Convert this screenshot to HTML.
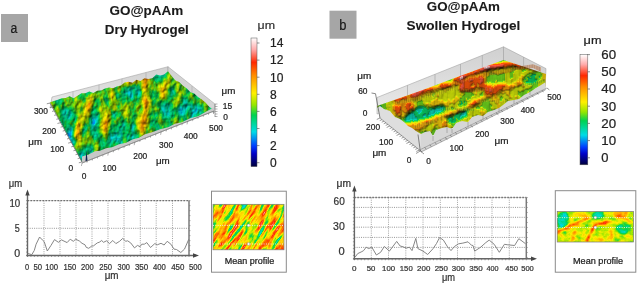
<!DOCTYPE html><html><head><meta charset="utf-8"><style>html,body{margin:0;padding:0;background:#fff;overflow:hidden}svg{display:block;will-change:transform}</style></head><body>
<svg width="637" height="283" viewBox="0 0 637 283" font-family="Liberation Sans, sans-serif">
<rect width="637" height="283" fill="#fff"/>
<defs>
<filter id="texA" x="0" y="0" width="100%" height="100%" filterUnits="objectBoundingBox" color-interpolation-filters="sRGB">
<feTurbulence type="fractalNoise" baseFrequency="0.045 0.016" numOctaves="5" seed="21" result="n"/>
<feColorMatrix in="n" type="matrix" values="1.05 0 0 0 -0.09  1.05 0 0 0 -0.09  1.05 0 0 0 -0.09  0 0 0 0 1" result="g"/>
<feComponentTransfer in="g" result="c">
<feFuncR type="table" tableValues="0.000 0.000 0.000 0.000 0.000 0.000 0.000 0.000 0.000 0.000 0.000 0.000 0.000 0.142 0.380 0.606 0.754 0.901 1.000 1.000 1.000 1.000 1.000 1.000 1.000 1.000 1.000 1.000 1.000 1.000 1.000 1.000"/>
<feFuncG type="table" tableValues="0.000 0.000 0.000 0.000 0.114 0.243 0.427 0.611 0.795 0.857 0.847 0.837 0.827 0.843 0.874 0.904 0.918 0.932 0.911 0.821 0.731 0.640 0.550 0.424 0.297 0.171 0.303 0.468 0.632 0.761 0.881 1.000"/>
<feFuncB type="table" tableValues="0.235 0.412 0.590 0.767 0.889 0.999 0.970 0.941 0.913 0.810 0.664 0.518 0.372 0.238 0.111 0.000 0.000 0.000 0.000 0.000 0.000 0.000 0.000 0.000 0.000 0.000 0.191 0.406 0.622 0.761 0.881 1.000"/>
</feComponentTransfer>
<feTurbulence type="fractalNoise" baseFrequency="0.25 0.2" numOctaves="4" seed="3" result="hn"/>
<feColorMatrix in="hn" type="matrix" values="0 0 0 0 0  0 0 0 0 0  0 0 0 0 0  0.6 0 0 0.6 -0.2" result="hm"/>
<feComposite in="n" in2="hm" operator="arithmetic" k1="0" k2="0" k3="1" k4="0" result="hm2"/>
<feColorMatrix in="n" type="matrix" values="0 0 0 0 0  0 0 0 0 0  0 0 0 0 0  1 0 0 0 0" result="na"/>
<feComposite in="na" in2="hm" operator="arithmetic" k1="0" k2="0.7" k3="0.5" k4="0" result="hgt"/>
<feDiffuseLighting in="hgt" surfaceScale="3.5" diffuseConstant="1.15" lighting-color="#fff" result="L"><feDistantLight azimuth="225" elevation="45"/></feDiffuseLighting>
<feComposite in="c" in2="L" operator="arithmetic" k1="1" k2="0.0" k3="0" k4="0" result="lit"/>
<feColorMatrix in="lit" type="matrix" values="1 0 0 0 0  0 1 0 0 0  0 0 1 0 0  0 0 0 0 1"/>
</filter>
<filter id="texB" x="0" y="0" width="100%" height="100%" filterUnits="objectBoundingBox" color-interpolation-filters="sRGB">
<feTurbulence type="fractalNoise" baseFrequency="0.03 0.12" numOctaves="3" seed="11" result="n"/>
<feColorMatrix in="n" type="matrix" values="1.3 0 0 0 -0.1  1.3 0 0 0 -0.1  1.3 0 0 0 -0.1  0 0 0 0 1" result="g"/>
<feComponentTransfer in="g" result="c">
<feFuncR type="table" tableValues="0.000 0.000 0.000 0.000 0.000 0.000 0.000 0.000 0.000 0.000 0.000 0.000 0.000 0.142 0.380 0.606 0.754 0.901 1.000 1.000 1.000 1.000 1.000 1.000 1.000 1.000 1.000 1.000 1.000 1.000 1.000 1.000"/>
<feFuncG type="table" tableValues="0.000 0.000 0.000 0.000 0.114 0.243 0.427 0.611 0.795 0.857 0.847 0.837 0.827 0.843 0.874 0.904 0.918 0.932 0.911 0.821 0.731 0.640 0.550 0.424 0.297 0.171 0.303 0.468 0.632 0.761 0.881 1.000"/>
<feFuncB type="table" tableValues="0.235 0.412 0.590 0.767 0.889 0.999 0.970 0.941 0.913 0.810 0.664 0.518 0.372 0.238 0.111 0.000 0.000 0.000 0.000 0.000 0.000 0.000 0.000 0.000 0.000 0.000 0.191 0.406 0.622 0.761 0.881 1.000"/>
</feComponentTransfer>
<feTurbulence type="fractalNoise" baseFrequency="0.2 0.3" numOctaves="4" seed="3" result="hn"/>
<feColorMatrix in="hn" type="matrix" values="0 0 0 0 0  0 0 0 0 0  0 0 0 0 0  0.6 0 0 0.6 -0.2" result="hm"/>
<feComposite in="n" in2="hm" operator="arithmetic" k1="0" k2="0" k3="1" k4="0" result="hm2"/>
<feColorMatrix in="n" type="matrix" values="0 0 0 0 0  0 0 0 0 0  0 0 0 0 0  1 0 0 0 0" result="na"/>
<feComposite in="na" in2="hm" operator="arithmetic" k1="0" k2="0.7" k3="0.5" k4="0" result="hgt"/>
<feDiffuseLighting in="hgt" surfaceScale="4" diffuseConstant="1.15" lighting-color="#fff" result="L"><feDistantLight azimuth="225" elevation="45"/></feDiffuseLighting>
<feComposite in="c" in2="L" operator="arithmetic" k1="1" k2="0.0" k3="0" k4="0" result="lit"/>
<feColorMatrix in="lit" type="matrix" values="1 0 0 0 0  0 1 0 0 0  0 0 1 0 0  0 0 0 0 1"/>
</filter>
<filter id="fieldB" x="0" y="0" width="100%" height="100%" filterUnits="objectBoundingBox" color-interpolation-filters="sRGB">
<feGaussianBlur in="SourceGraphic" stdDeviation="1.0" result="sb"/>
<feTurbulence type="fractalNoise" baseFrequency="0.1 0.07" numOctaves="3" seed="14" result="n0"/>
<feColorMatrix in="n0" type="matrix" values="1 0 0 0 0  1 0 0 0 0  1 0 0 0 0  0 0 0 0 1" result="n"/>
<feComposite in="sb" in2="n" operator="arithmetic" k1="0" k2="1" k3="0.35" k4="-0.175" result="v"/>
<feComponentTransfer in="v" result="vq"><feFuncR type="discrete" tableValues="0.000 0.077 0.154 0.231 0.308 0.385 0.462 0.538 0.615 0.692 0.769 0.846 0.923 1.000"/><feFuncG type="discrete" tableValues="0.000 0.077 0.154 0.231 0.308 0.385 0.462 0.538 0.615 0.692 0.769 0.846 0.923 1.000"/><feFuncB type="discrete" tableValues="0.000 0.077 0.154 0.231 0.308 0.385 0.462 0.538 0.615 0.692 0.769 0.846 0.923 1.000"/></feComponentTransfer><feColorMatrix in="vq" type="matrix" values="1 0 0 0 0  1 0 0 0 0  1 0 0 0 0  0 0 0 0 1" result="g"/>
<feComponentTransfer in="g" result="c">
<feFuncR type="table" tableValues="0.000 0.000 0.000 0.000 0.000 0.000 0.000 0.000 0.000 0.000 0.000 0.000 0.000 0.000 0.000 0.000 0.000 0.000 0.000 0.031 0.188 0.344 0.501 0.631 0.728 0.826 0.923 1.000 1.000 1.000 1.000 1.000 1.000 1.000 1.000 1.000 1.000 1.000 1.000 1.000 1.000 1.000 1.000 1.000 1.000 1.000 1.000 1.000"/>
<feFuncG type="table" tableValues="0.000 0.000 0.000 0.000 0.000 0.025 0.108 0.192 0.294 0.415 0.536 0.658 0.779 0.861 0.854 0.848 0.842 0.835 0.829 0.828 0.849 0.869 0.890 0.906 0.915 0.925 0.934 0.929 0.869 0.809 0.750 0.690 0.631 0.571 0.496 0.413 0.330 0.246 0.163 0.258 0.366 0.475 0.583 0.685 0.764 0.842 0.921 1.000"/>
<feFuncB type="table" tableValues="0.235 0.352 0.469 0.586 0.703 0.807 0.884 0.960 0.991 0.972 0.953 0.934 0.915 0.872 0.776 0.680 0.583 0.487 0.391 0.297 0.214 0.130 0.047 0.000 0.000 0.000 0.000 0.000 0.000 0.000 0.000 0.000 0.000 0.000 0.000 0.000 0.000 0.000 0.000 0.132 0.274 0.416 0.557 0.685 0.764 0.842 0.921 1.000"/>
</feComponentTransfer>
<feTurbulence type="fractalNoise" baseFrequency="0.4 0.04" numOctaves="4" seed="5" result="hn"/>
<feColorMatrix in="vq" type="matrix" values="0 0 0 0 0  0 0 0 0 0  0 0 0 0 0  1 0 0 0 0" result="va"/>
<feColorMatrix in="hn" type="matrix" values="0 0 0 0 0  0 0 0 0 0  0 0 0 0 0  1 0 0 0 0" result="ha"/>
<feComposite in="va" in2="ha" operator="arithmetic" k1="0" k2="1.0" k3="0.3" k4="-0.15" result="hgt"/>
<feDiffuseLighting in="hgt" surfaceScale="4.0" diffuseConstant="1.1" lighting-color="#fff" result="L"><feDistantLight azimuth="260" elevation="45"/></feDiffuseLighting>
<feComposite in="c" in2="L" operator="arithmetic" k1="0.85" k2="0.12" k3="0" k4="0" result="lit"/>
<feComposite in="lit" in2="SourceAlpha" operator="in"/>
</filter>
<filter id="fieldA" x="0" y="0" width="100%" height="100%" filterUnits="objectBoundingBox" color-interpolation-filters="sRGB">
<feGaussianBlur in="SourceGraphic" stdDeviation="2.0" result="sb"/>
<feTurbulence type="fractalNoise" baseFrequency="0.11 0.06" numOctaves="4" seed="4" result="n0"/>
<feColorMatrix in="n0" type="matrix" values="1 0 0 0 0  1 0 0 0 0  1 0 0 0 0  0 0 0 0 1" result="n"/>
<feComposite in="sb" in2="n" operator="arithmetic" k1="0" k2="1" k3="0.46" k4="-0.23" result="v"/>
<feColorMatrix in="v" type="matrix" values="1 0 0 0 0  1 0 0 0 0  1 0 0 0 0  0 0 0 0 1" result="g"/>
<feComponentTransfer in="g" result="c">
<feFuncR type="table" tableValues="0.000 0.000 0.000 0.000 0.000 0.000 0.000 0.000 0.000 0.000 0.000 0.000 0.000 0.000 0.000 0.000 0.000 0.000 0.000 0.031 0.188 0.344 0.501 0.631 0.728 0.826 0.923 1.000 1.000 1.000 1.000 1.000 1.000 1.000 1.000 1.000 1.000 1.000 1.000 1.000 1.000 1.000 1.000 1.000 1.000 1.000 1.000 1.000"/>
<feFuncG type="table" tableValues="0.000 0.000 0.000 0.000 0.000 0.025 0.108 0.192 0.294 0.415 0.536 0.658 0.779 0.861 0.854 0.848 0.842 0.835 0.829 0.828 0.849 0.869 0.890 0.906 0.915 0.925 0.934 0.929 0.869 0.809 0.750 0.690 0.631 0.571 0.496 0.413 0.330 0.246 0.163 0.258 0.366 0.475 0.583 0.685 0.764 0.842 0.921 1.000"/>
<feFuncB type="table" tableValues="0.235 0.352 0.469 0.586 0.703 0.807 0.884 0.960 0.991 0.972 0.953 0.934 0.915 0.872 0.776 0.680 0.583 0.487 0.391 0.297 0.214 0.130 0.047 0.000 0.000 0.000 0.000 0.000 0.000 0.000 0.000 0.000 0.000 0.000 0.000 0.000 0.000 0.000 0.000 0.132 0.274 0.416 0.557 0.685 0.764 0.842 0.921 1.000"/>
</feComponentTransfer>
<feTurbulence type="fractalNoise" baseFrequency="0.22 0.18" numOctaves="4" seed="9" result="hn"/>
<feColorMatrix in="v" type="matrix" values="0 0 0 0 0  0 0 0 0 0  0 0 0 0 0  1 0 0 0 0" result="va"/>
<feColorMatrix in="hn" type="matrix" values="0 0 0 0 0  0 0 0 0 0  0 0 0 0 0  1 0 0 0 0" result="ha"/>
<feComposite in="va" in2="ha" operator="arithmetic" k1="0" k2="0.8" k3="0.5" k4="-0.15" result="hgt"/>
<feDiffuseLighting in="hgt" surfaceScale="2.8" diffuseConstant="1.1" lighting-color="#fff" result="L"><feDistantLight azimuth="225" elevation="48"/></feDiffuseLighting>
<feComposite in="c" in2="L" operator="arithmetic" k1="1.0" k2="0.0" k3="0" k4="0" result="lit"/>
<feComposite in="lit" in2="SourceAlpha" operator="in"/>
</filter>
<filter id="texMA" x="0" y="0" width="100%" height="100%" filterUnits="objectBoundingBox" color-interpolation-filters="sRGB">
<feTurbulence type="fractalNoise" baseFrequency="0.12 0.035" numOctaves="3" seed="5" result="n"/>
<feColorMatrix in="n" type="matrix" values="1.3 0 0 0 -0.0  1.3 0 0 0 -0.0  1.3 0 0 0 -0.0  0 0 0 0 1" result="g"/>
<feComponentTransfer in="g" result="c">
<feFuncR type="table" tableValues="0.000 0.000 0.000 0.000 0.000 0.000 0.000 0.000 0.000 0.000 0.000 0.000 0.000 0.142 0.380 0.606 0.754 0.901 1.000 1.000 1.000 1.000 1.000 1.000 1.000 1.000 1.000 1.000 1.000 1.000 1.000 1.000"/>
<feFuncG type="table" tableValues="0.000 0.000 0.000 0.000 0.114 0.243 0.427 0.611 0.795 0.857 0.847 0.837 0.827 0.843 0.874 0.904 0.918 0.932 0.911 0.821 0.731 0.640 0.550 0.424 0.297 0.171 0.303 0.468 0.632 0.761 0.881 1.000"/>
<feFuncB type="table" tableValues="0.235 0.412 0.590 0.767 0.889 0.999 0.970 0.941 0.913 0.810 0.664 0.518 0.372 0.238 0.111 0.000 0.000 0.000 0.000 0.000 0.000 0.000 0.000 0.000 0.000 0.000 0.191 0.406 0.622 0.761 0.881 1.000"/>
</feComponentTransfer>

</filter>
<filter id="texMB" x="0" y="0" width="100%" height="100%" filterUnits="objectBoundingBox" color-interpolation-filters="sRGB">
<feTurbulence type="fractalNoise" baseFrequency="0.05 0.15" numOctaves="3" seed="9" result="n"/>
<feColorMatrix in="n" type="matrix" values="1.2 0 0 0 -0.05  1.2 0 0 0 -0.05  1.2 0 0 0 -0.05  0 0 0 0 1" result="g"/>
<feComponentTransfer in="g" result="c">
<feFuncR type="table" tableValues="0.000 0.000 0.000 0.000 0.000 0.000 0.000 0.000 0.000 0.000 0.000 0.000 0.000 0.142 0.380 0.606 0.754 0.901 1.000 1.000 1.000 1.000 1.000 1.000 1.000 1.000 1.000 1.000 1.000 1.000 1.000 1.000"/>
<feFuncG type="table" tableValues="0.000 0.000 0.000 0.000 0.114 0.243 0.427 0.611 0.795 0.857 0.847 0.837 0.827 0.843 0.874 0.904 0.918 0.932 0.911 0.821 0.731 0.640 0.550 0.424 0.297 0.171 0.303 0.468 0.632 0.761 0.881 1.000"/>
<feFuncB type="table" tableValues="0.235 0.412 0.590 0.767 0.889 0.999 0.970 0.941 0.913 0.810 0.664 0.518 0.372 0.238 0.111 0.000 0.000 0.000 0.000 0.000 0.000 0.000 0.000 0.000 0.000 0.000 0.191 0.406 0.622 0.761 0.881 1.000"/>
</feComponentTransfer>

</filter>
<linearGradient id="cbar" x1="0" y1="1" x2="0" y2="0"><stop offset="0.0" stop-color="rgb(0, 0, 60)"/><stop offset="0.1" stop-color="rgb(0, 0, 200)"/><stop offset="0.16" stop-color="rgb(0, 60, 255)"/><stop offset="0.27" stop-color="rgb(0, 220, 230)"/><stop offset="0.4" stop-color="rgb(0, 210, 80)"/><stop offset="0.48" stop-color="rgb(150, 230, 0)"/><stop offset="0.57" stop-color="rgb(255, 240, 0)"/><stop offset="0.71" stop-color="rgb(255, 140, 0)"/><stop offset="0.81" stop-color="rgb(255, 40, 0)"/><stop offset="0.91" stop-color="rgb(255, 170, 170)"/><stop offset="1.0" stop-color="rgb(255, 255, 255)"/></linearGradient>
<linearGradient id="wall" x1="0" y1="0" x2="0" y2="1"><stop offset="0" stop-color="#d0d0d0"/><stop offset="1" stop-color="#eaeaea"/></linearGradient>
</defs>
<rect x="1" y="14" width="27" height="28" fill="#a6a6a6"/>
<text x="10.4" y="32.6" font-size="14" font-weight="normal" fill="#1a1a1a" stroke="#1a1a1a" stroke-width="0.22" text-anchor="start" textLength="6.8" lengthAdjust="spacingAndGlyphs" >a</text>
<text x="109.5" y="15.3" font-size="12.3" font-weight="bold" fill="#1a1a1a" stroke="#1a1a1a" stroke-width="0.1" text-anchor="start" textLength="73.8" lengthAdjust="spacingAndGlyphs" >GO@pAAm</text>
<text x="104.8" y="33.9" font-size="12.6" font-weight="bold" fill="#1a1a1a" stroke="#1a1a1a" stroke-width="0.1" text-anchor="start" textLength="84.0" lengthAdjust="spacingAndGlyphs" >Dry Hydrogel</text>
<polygon points="52.0,97.0 168.0,66.7 168.0,78.0 50.0,108.0" fill="url(#wall)" stroke="#999" stroke-width="0.5" />
<line x1="73" y1="91.5148" x2="73" y2="99.5148" stroke="#a8a8a8" stroke-width="0.6" />
<line x1="99" y1="84.7236" x2="99" y2="92.7236" stroke="#a8a8a8" stroke-width="0.6" />
<line x1="122" y1="78.71600000000001" x2="122" y2="86.71600000000001" stroke="#a8a8a8" stroke-width="0.6" />
<line x1="146" y1="72.44720000000001" x2="146" y2="80.44720000000001" stroke="#a8a8a8" stroke-width="0.6" />
<polygon points="168.0,66.7 215.0,104.0 214.0,113.0 168.0,78.0" fill="#d4d4d4" stroke="#999" stroke-width="0.5" />
<line x1="192" y1="86" x2="192" y2="94" stroke="#a8a8a8" stroke-width="0.6" />
<clipPath id="clipSA"><polygon points="50.0,102.3 53.9,100.9 57.9,99.8 61.8,98.3 65.7,97.9 69.7,96.3 73.6,98.2 77.5,95.8 81.5,93.3 85.4,93.2 89.3,91.4 93.3,92.9 97.2,90.8 101.1,90.5 105.1,88.6 109.0,87.5 112.9,88.3 116.9,86.6 120.8,85.4 124.7,82.4 128.7,81.8 132.6,82.8 136.5,79.7 140.5,80.9 144.4,78.3 148.3,78.9 152.3,78.3 156.2,74.5 160.1,75.6 164.1,74.6 168.0,71.2 171.8,76.3 175.5,80.5 179.2,81.9 183.0,85.8 186.8,88.4 190.5,92.3 194.2,93.6 198.0,97.1 201.8,99.4 205.5,102.5 209.2,106.7 213.0,109.5 214.0,111.0 82.0,162.0"/></clipPath>
<g clip-path="url(#clipSA)"><g filter="url(#fieldA)"><rect x="40" y="60" width="180" height="110" fill="rgb(106,106,106)"/><polygon points="50,103 168,73 214,111 200,112 165,85 55,112" fill="rgb(112,112,112)"/><ellipse cx="66" cy="125" rx="10" ry="18" fill="rgb(87,87,87)"/><ellipse cx="70" cy="134" rx="4" ry="9" fill="rgb(69,69,69)"/><ellipse cx="124" cy="133" rx="12" ry="14" fill="rgb(89,89,89)"/><ellipse cx="184" cy="118" rx="17" ry="12" fill="rgb(92,92,92)"/><ellipse cx="195" cy="108" rx="8" ry="5" fill="rgb(87,87,87)"/><ellipse cx="160" cy="118" rx="6" ry="6" fill="rgb(89,89,89)"/><ellipse cx="90" cy="150" rx="6" ry="6" fill="rgb(84,84,84)"/><path d="M76,136 L82,119 L95,93" stroke="rgb(178,178,178)" stroke-width="4" fill="none" stroke-linecap="round"/><path d="M104,131 L108,118 L112,106" stroke="rgb(168,168,168)" stroke-width="4" fill="none" stroke-linecap="round"/><path d="M142,131 L145,118 L146.5,105 L145,91 L146.5,76" stroke="rgb(194,194,194)" stroke-width="5" fill="none" stroke-linecap="round"/><path d="M125,108 L131,134" stroke="rgb(158,158,158)" stroke-width="3" fill="none" stroke-linecap="round"/><path d="M125,84 L142,78" stroke="rgb(158,158,158)" stroke-width="5" fill="none" stroke-linecap="round"/><path d="M162,98 L168,78" stroke="rgb(158,158,158)" stroke-width="4" fill="none" stroke-linecap="round"/></g></g>
<polygon points="82.0,163.0 82.0,156.4 88.0,154.8 95.0,151.3 100.0,150.8 106.0,148.3 112.0,147.3 119.0,144.3 126.0,142.8 133.0,139.3 139.0,137.8 145.0,134.3 152.0,132.3 160.0,129.3 168.0,127.3 175.0,123.8 182.0,122.3 190.0,118.3 198.0,116.3 205.0,112.3 214.0,107.2 214.0,111.0" fill="#c8c8c8" stroke="none" stroke-width="1" />
<line x1="82" y1="163" x2="214" y2="111" stroke="#8c8c8c" stroke-width="0.8" />
<path d="M86.5,150 L87.5,161 L85.5,161 Z" fill="#102050"/>
<text x="40.9" y="114.3" font-size="8.4" font-weight="normal" fill="#222" stroke="#222" stroke-width="0.22" text-anchor="middle" >300</text>
<text x="49.3" y="133.9" font-size="8.4" font-weight="normal" fill="#222" stroke="#222" stroke-width="0.22" text-anchor="middle" >200</text>
<text x="57.3" y="151.5" font-size="8.4" font-weight="normal" fill="#222" stroke="#222" stroke-width="0.22" text-anchor="middle" >100</text>
<text x="70.9" y="170.6" font-size="8.4" font-weight="normal" fill="#222" stroke="#222" stroke-width="0.22" text-anchor="middle" >0</text>
<text x="84.2" y="178.6" font-size="8.4" font-weight="normal" fill="#222" stroke="#222" stroke-width="0.22" text-anchor="middle" >0</text>
<text x="109.5" y="170.5" font-size="8.4" font-weight="normal" fill="#222" stroke="#222" stroke-width="0.22" text-anchor="middle" >100</text>
<text x="140.3" y="158.6" font-size="8.4" font-weight="normal" fill="#222" stroke="#222" stroke-width="0.22" text-anchor="middle" >200</text>
<text x="166.1" y="147.8" font-size="8.4" font-weight="normal" fill="#222" stroke="#222" stroke-width="0.22" text-anchor="middle" >300</text>
<text x="190.8" y="138.6" font-size="8.4" font-weight="normal" fill="#222" stroke="#222" stroke-width="0.22" text-anchor="middle" >400</text>
<text x="216" y="131.0" font-size="8.4" font-weight="normal" fill="#222" stroke="#222" stroke-width="0.22" text-anchor="middle" >500</text>
<text x="227.5" y="109.0" font-size="8.4" font-weight="normal" fill="#222" stroke="#222" stroke-width="0.22" text-anchor="middle" >15</text>
<text x="225.5" y="119.5" font-size="8.4" font-weight="normal" fill="#222" stroke="#222" stroke-width="0.22" text-anchor="middle" >0</text>
<text x="35.2" y="145.0" font-size="8.8" font-weight="normal" fill="#222" stroke="#222" stroke-width="0.22" text-anchor="middle" textLength="13.8" lengthAdjust="spacingAndGlyphs" >μm</text>
<text x="162.8" y="163.9" font-size="8.8" font-weight="normal" fill="#222" stroke="#222" stroke-width="0.22" text-anchor="middle" textLength="13.8" lengthAdjust="spacingAndGlyphs" >μm</text>
<text x="228.5" y="93.5" font-size="8.8" font-weight="normal" fill="#222" stroke="#222" stroke-width="0.22" text-anchor="middle" textLength="13.8" lengthAdjust="spacingAndGlyphs" >μm</text>
<line x1="50" y1="103" x2="82" y2="162" stroke="#666" stroke-width="0.8" />
<line x1="82" y1="163" x2="214" y2="111" stroke="#888" stroke-width="0.6" />
<line x1="50.0" y1="103.0" x2="46.8" y2="103.8" stroke="#555" stroke-width="0.6" />
<line x1="52.13333333333333" y1="106.93333333333334" x2="49.93333333333333" y2="107.48333333333333" stroke="#555" stroke-width="0.6" />
<line x1="54.266666666666666" y1="110.86666666666666" x2="52.06666666666666" y2="111.41666666666666" stroke="#555" stroke-width="0.6" />
<line x1="56.4" y1="114.8" x2="54.199999999999996" y2="115.35" stroke="#555" stroke-width="0.6" />
<line x1="58.53333333333333" y1="118.73333333333333" x2="56.33333333333333" y2="119.28333333333333" stroke="#555" stroke-width="0.6" />
<line x1="60.666666666666664" y1="122.66666666666666" x2="57.46666666666666" y2="123.46666666666665" stroke="#555" stroke-width="0.6" />
<line x1="62.8" y1="126.6" x2="60.599999999999994" y2="127.14999999999999" stroke="#555" stroke-width="0.6" />
<line x1="64.93333333333334" y1="130.53333333333333" x2="62.733333333333334" y2="131.08333333333334" stroke="#555" stroke-width="0.6" />
<line x1="67.06666666666666" y1="134.46666666666667" x2="64.86666666666666" y2="135.01666666666668" stroke="#555" stroke-width="0.6" />
<line x1="69.2" y1="138.4" x2="67.0" y2="138.95000000000002" stroke="#555" stroke-width="0.6" />
<line x1="71.33333333333333" y1="142.33333333333331" x2="68.13333333333333" y2="143.13333333333333" stroke="#555" stroke-width="0.6" />
<line x1="73.46666666666667" y1="146.26666666666665" x2="71.26666666666667" y2="146.81666666666666" stroke="#555" stroke-width="0.6" />
<line x1="75.6" y1="150.2" x2="73.39999999999999" y2="150.75" stroke="#555" stroke-width="0.6" />
<line x1="77.73333333333333" y1="154.13333333333333" x2="75.53333333333333" y2="154.68333333333334" stroke="#555" stroke-width="0.6" />
<line x1="79.86666666666667" y1="158.06666666666666" x2="77.66666666666667" y2="158.61666666666667" stroke="#555" stroke-width="0.6" />
<line x1="82.0" y1="162.0" x2="78.8" y2="162.8" stroke="#555" stroke-width="0.6" />
<line x1="82.0" y1="163.0" x2="81.4" y2="166.0" stroke="#666" stroke-width="0.5" />
<line x1="87.28" y1="160.92" x2="86.92" y2="162.72" stroke="#666" stroke-width="0.5" />
<line x1="92.56" y1="158.84" x2="92.2" y2="160.64000000000001" stroke="#666" stroke-width="0.5" />
<line x1="97.84" y1="156.76" x2="97.48" y2="158.56" stroke="#666" stroke-width="0.5" />
<line x1="103.12" y1="154.68" x2="102.76" y2="156.48000000000002" stroke="#666" stroke-width="0.5" />
<line x1="108.4" y1="152.6" x2="107.80000000000001" y2="155.6" stroke="#666" stroke-width="0.5" />
<line x1="113.68" y1="150.52" x2="113.32000000000001" y2="152.32000000000002" stroke="#666" stroke-width="0.5" />
<line x1="118.96000000000001" y1="148.44" x2="118.60000000000001" y2="150.24" stroke="#666" stroke-width="0.5" />
<line x1="124.24000000000001" y1="146.36" x2="123.88000000000001" y2="148.16000000000003" stroke="#666" stroke-width="0.5" />
<line x1="129.51999999999998" y1="144.28" x2="129.15999999999997" y2="146.08" stroke="#666" stroke-width="0.5" />
<line x1="134.8" y1="142.2" x2="134.20000000000002" y2="145.2" stroke="#666" stroke-width="0.5" />
<line x1="140.07999999999998" y1="140.12" x2="139.71999999999997" y2="141.92000000000002" stroke="#666" stroke-width="0.5" />
<line x1="145.36" y1="138.04" x2="145.0" y2="139.84" stroke="#666" stroke-width="0.5" />
<line x1="150.64" y1="135.96" x2="150.27999999999997" y2="137.76000000000002" stroke="#666" stroke-width="0.5" />
<line x1="155.92000000000002" y1="133.88" x2="155.56" y2="135.68" stroke="#666" stroke-width="0.5" />
<line x1="161.2" y1="131.8" x2="160.6" y2="134.8" stroke="#666" stroke-width="0.5" />
<line x1="166.48000000000002" y1="129.72" x2="166.12" y2="131.52" stroke="#666" stroke-width="0.5" />
<line x1="171.76" y1="127.64" x2="171.39999999999998" y2="129.44" stroke="#666" stroke-width="0.5" />
<line x1="177.04" y1="125.56" x2="176.67999999999998" y2="127.36" stroke="#666" stroke-width="0.5" />
<line x1="182.32" y1="123.47999999999999" x2="181.95999999999998" y2="125.27999999999999" stroke="#666" stroke-width="0.5" />
<line x1="187.60000000000002" y1="121.4" x2="187.00000000000003" y2="124.4" stroke="#666" stroke-width="0.5" />
<line x1="192.88" y1="119.32" x2="192.51999999999998" y2="121.11999999999999" stroke="#666" stroke-width="0.5" />
<line x1="198.16" y1="117.24000000000001" x2="197.79999999999998" y2="119.04" stroke="#666" stroke-width="0.5" />
<line x1="203.44" y1="115.16" x2="203.07999999999998" y2="116.96" stroke="#666" stroke-width="0.5" />
<line x1="208.72" y1="113.08" x2="208.35999999999999" y2="114.88" stroke="#666" stroke-width="0.5" />
<line x1="214.0" y1="111.0" x2="213.4" y2="114.0" stroke="#666" stroke-width="0.5" />
<line x1="215" y1="104" x2="215" y2="117" stroke="#666" stroke-width="0.6" />
<line x1="215" y1="104" x2="217.5" y2="104" stroke="#666" stroke-width="0.5" />
<line x1="215" y1="106.5" x2="217.5" y2="106.5" stroke="#666" stroke-width="0.5" />
<line x1="215" y1="109" x2="217.5" y2="109" stroke="#666" stroke-width="0.5" />
<line x1="215" y1="111.5" x2="217.5" y2="111.5" stroke="#666" stroke-width="0.5" />
<line x1="215" y1="114" x2="217.5" y2="114" stroke="#666" stroke-width="0.5" />
<line x1="215" y1="116.5" x2="217.5" y2="116.5" stroke="#666" stroke-width="0.5" />
<rect x="251" y="38" width="6" height="128.6" fill="url(#cbar)" stroke="#555" stroke-width="0.5"/>
<text x="257.5" y="29.3" font-size="11" font-weight="normal" fill="#333" stroke="#333" stroke-width="0.22" text-anchor="start" textLength="17.5" lengthAdjust="spacingAndGlyphs" >μm</text>
<text x="270" y="167.0" font-size="12" font-weight="normal" fill="#222" stroke="#222" stroke-width="0.22" text-anchor="start" >0</text>
<line x1="257" y1="162.7" x2="259.5" y2="162.7" stroke="#444" stroke-width="0.6" />
<text x="270" y="149.9" font-size="12" font-weight="normal" fill="#222" stroke="#222" stroke-width="0.22" text-anchor="start" >2</text>
<line x1="257" y1="145.6" x2="259.5" y2="145.6" stroke="#444" stroke-width="0.6" />
<text x="270" y="132.8" font-size="12" font-weight="normal" fill="#222" stroke="#222" stroke-width="0.22" text-anchor="start" >4</text>
<line x1="257" y1="128.5" x2="259.5" y2="128.5" stroke="#444" stroke-width="0.6" />
<text x="270" y="115.69999999999997" font-size="12" font-weight="normal" fill="#222" stroke="#222" stroke-width="0.22" text-anchor="start" >6</text>
<line x1="257" y1="111.39999999999998" x2="259.5" y2="111.39999999999998" stroke="#444" stroke-width="0.6" />
<text x="270" y="98.59999999999998" font-size="12" font-weight="normal" fill="#222" stroke="#222" stroke-width="0.22" text-anchor="start" >8</text>
<line x1="257" y1="94.29999999999998" x2="259.5" y2="94.29999999999998" stroke="#444" stroke-width="0.6" />
<text x="270" y="81.49999999999999" font-size="12" font-weight="normal" fill="#222" stroke="#222" stroke-width="0.22" text-anchor="start" >10</text>
<line x1="257" y1="77.19999999999999" x2="259.5" y2="77.19999999999999" stroke="#444" stroke-width="0.6" />
<text x="270" y="64.39999999999998" font-size="12" font-weight="normal" fill="#222" stroke="#222" stroke-width="0.22" text-anchor="start" >12</text>
<line x1="257" y1="60.09999999999998" x2="259.5" y2="60.09999999999998" stroke="#444" stroke-width="0.6" />
<text x="270" y="47.29999999999997" font-size="12" font-weight="normal" fill="#222" stroke="#222" stroke-width="0.22" text-anchor="start" >14</text>
<line x1="257" y1="42.99999999999997" x2="259.5" y2="42.99999999999997" stroke="#444" stroke-width="0.6" />
<rect x="329.5" y="10.7" width="27" height="28" fill="#a6a6a6"/>
<text x="339.3" y="29.6" font-size="14" font-weight="normal" fill="#1a1a1a" stroke="#1a1a1a" stroke-width="0.22" text-anchor="start" textLength="7.2" lengthAdjust="spacingAndGlyphs" >b</text>
<text x="426.8" y="11.0" font-size="12.3" font-weight="bold" fill="#1a1a1a" stroke="#1a1a1a" stroke-width="0.1" text-anchor="start" textLength="73.2" lengthAdjust="spacingAndGlyphs" >GO@pAAm</text>
<text x="406.6" y="29.7" font-size="12.6" font-weight="bold" fill="#1a1a1a" stroke="#1a1a1a" stroke-width="0.1" text-anchor="start" textLength="113.8" lengthAdjust="spacingAndGlyphs" >Swollen Hydrogel</text>
<polygon points="377.0,97.5 503.5,46.8 503.5,72.0 377.0,114.0" fill="url(#wall)" stroke="#999" stroke-width="0.5" />
<line x1="407.5" y1="85.2756" x2="407.5" y2="101.2756" stroke="#a0a0a0" stroke-width="0.6" />
<line x1="435" y1="74.2536" x2="435" y2="90.2536" stroke="#a0a0a0" stroke-width="0.6" />
<line x1="460.5" y1="64.0332" x2="460.5" y2="80.0332" stroke="#a0a0a0" stroke-width="0.6" />
<line x1="482.3" y1="55.295759999999994" x2="482.3" y2="71.29576" stroke="#a0a0a0" stroke-width="0.6" />
<polygon points="503.5,46.8 546.0,68.6 545.0,89.8 503.5,72.0" fill="#d2d2d2" stroke="#999" stroke-width="0.5" />
<line x1="523.6" y1="57" x2="523.6" y2="80" stroke="#a0a0a0" stroke-width="0.6" />
<clipPath id="clipSB"><polygon points="377,106 420,91 460,76 503.5,60 546,74 545,88 494.6,114 443.7,131 421,140 400,125 378,111"/></clipPath>
<g clip-path="url(#clipSB)"><g filter="url(#fieldB)"><rect x="360" y="40" width="200" height="120" fill="rgb(135,135,135)"/><ellipse cx="387" cy="106" rx="9" ry="4" transform="rotate(-22 387 106)" fill="rgb(128,128,128)"/><ellipse cx="404" cy="108" rx="10" ry="10" transform="rotate(-22 404 108)" fill="rgb(178,178,178)"/><ellipse cx="418" cy="114" rx="14" ry="6" transform="rotate(-22 418 114)" fill="rgb(92,92,92)"/><ellipse cx="426" cy="116" rx="6" ry="3" transform="rotate(-22 426 116)" fill="rgb(79,79,79)"/><ellipse cx="420" cy="93" rx="12" ry="5" transform="rotate(-22 420 93)" fill="rgb(161,161,161)"/><ellipse cx="417" cy="127" rx="12" ry="4" transform="rotate(-22 417 127)" fill="rgb(178,178,178)"/><ellipse cx="441" cy="79" rx="9" ry="3" transform="rotate(-22 441 79)" fill="rgb(97,97,97)"/><ellipse cx="444" cy="98" rx="14" ry="8" transform="rotate(-22 444 98)" fill="rgb(143,143,143)"/><ellipse cx="437" cy="110" rx="9" ry="4" transform="rotate(-22 437 110)" fill="rgb(84,84,84)"/><ellipse cx="472" cy="84" rx="14" ry="6" transform="rotate(-22 472 84)" fill="rgb(196,196,196)"/><ellipse cx="468" cy="81" rx="6" ry="2" transform="rotate(-22 468 81)" fill="rgb(204,204,204)"/><ellipse cx="478" cy="100" rx="13" ry="8" transform="rotate(-22 478 100)" fill="rgb(128,128,128)"/><ellipse cx="502" cy="62" rx="9" ry="3" transform="rotate(-22 502 62)" fill="rgb(102,102,102)"/><ellipse cx="532" cy="78" rx="11" ry="5" transform="rotate(-22 532 78)" fill="rgb(102,102,102)"/><ellipse cx="506" cy="82" rx="17" ry="6" transform="rotate(-22 506 82)" fill="rgb(133,133,133)"/><ellipse cx="494" cy="89" rx="10" ry="4" transform="rotate(-22 494 89)" fill="rgb(184,184,184)"/><ellipse cx="455" cy="118" rx="12" ry="5" transform="rotate(-22 455 118)" fill="rgb(92,92,92)"/><ellipse cx="440" cy="124" rx="8" ry="4" transform="rotate(-22 440 124)" fill="rgb(153,153,153)"/><path d="M455,80 L485,68 L510,64 L541,67" stroke="rgb(204,204,204)" stroke-width="5" fill="none" stroke-linecap="round"/><path d="M396,100 L418,93 L437,88 L459,82 L472,84 L490,88 L505,86" stroke="rgb(189,189,189)" stroke-width="5" fill="none" stroke-linecap="round"/><path d="M405,126 L420,125 L440,118 L470,106 L494,92 L520,84" stroke="rgb(173,173,173)" stroke-width="4" fill="none" stroke-linecap="round"/></g></g>
<defs><pattern id="curt" patternUnits="userSpaceOnUse" width="2.2" height="20"><rect width="2.2" height="20" fill="#b0a818"/><rect x="0" width="0.9" height="20" fill="#e0d020"/><rect x="1.4" width="0.5" height="20" fill="#6a6a10"/></pattern><pattern id="curtR" patternUnits="userSpaceOnUse" width="2.4" height="20"><rect width="2.4" height="20" fill="#a04010"/><rect x="0" width="1.0" height="20" fill="#d07020"/><rect x="1.5" width="0.5" height="20" fill="#702a08"/></pattern><pattern id="curtG" patternUnits="userSpaceOnUse" width="2.0" height="20"><rect width="2.0" height="20" fill="#3c9a30"/><rect x="0" width="0.8" height="20" fill="#80c030"/><rect x="1.3" width="0.5" height="20" fill="#2a6a20"/></pattern></defs>
<polygon points="455.0,82.2 466.0,78.2 477.0,74.2 490.0,71.7 505.0,69.2 520.0,66.2 533.0,64.2 541.0,67.2 541.0,72.0 533.0,68.1 520.0,69.2 505.0,73.5 490.0,75.2 477.0,79.0 466.0,82.1 455.0,85.2" fill="url(#curtR)" stroke="none" stroke-width="1" opacity="0.42"/>
<polygon points="396.0,101.2 407.0,98.7 418.0,96.2 428.0,93.7 437.0,92.0 448.0,88.2 458.0,85.7 458.0,89.6 448.0,91.2 437.0,96.3 428.0,97.2 418.0,101.0 407.0,102.6 396.0,104.2" fill="url(#curt)" stroke="none" stroke-width="1" opacity="0.42"/>
<polygon points="460.0,88.2 468.0,89.2 476.0,88.7 486.0,87.2 494.0,89.2 494.0,92.6 486.0,89.9 476.0,92.5 468.0,92.2 460.0,90.5" fill="url(#curtR)" stroke="none" stroke-width="1" opacity="0.36"/>
<polygon points="521.0,84.2 530.0,83.2 538.0,81.2 545.0,79.2 545.0,81.1 538.0,84.0 530.0,85.4 521.0,85.8" fill="url(#curtG)" stroke="none" stroke-width="1" opacity="0.36"/>
<polygon points="405.0,127.2 415.0,125.2 425.0,122.2 438.0,118.2 438.0,120.9 425.0,126.0 415.0,128.2 405.0,129.5" fill="url(#curt)" stroke="none" stroke-width="1" opacity="0.36"/>
<polygon points="440.0,109.2 452.0,107.2 462.0,108.2 475.0,109.2 475.0,111.1 462.0,111.0 452.0,109.4 440.0,110.8" fill="url(#curtG)" stroke="none" stroke-width="1" opacity="0.33"/>
<polygon points="478.0,101.2 490.0,99.2 502.0,101.2 512.0,98.2 512.0,100.1 502.0,104.0 490.0,101.4 478.0,102.8" fill="url(#curt)" stroke="none" stroke-width="1" opacity="0.33"/>
<polygon points="377.0,108.0 380.0,106.0 384.0,109.0 390.0,111.0 395.0,117.0 400.0,119.0 404.0,122.0 408.0,126.0 412.0,128.0 416.0,131.0 421.0,134.0 421.0,152.0 380.0,118.0" fill="#dedede" stroke="none" stroke-width="1" />
<polygon points="421.0,134.0 425.0,132.0 430.0,131.0 433.0,136.0 436.0,130.0 442.0,128.0 447.0,127.0 452.0,129.0 456.0,123.0 462.0,121.0 468.0,122.0 472.0,117.0 478.0,115.0 483.0,116.0 488.0,112.0 494.0,110.0 499.0,108.0 503.0,105.0 508.0,101.0 514.0,100.0 519.0,99.0 524.0,95.0 530.0,92.0 536.0,88.0 541.0,85.0 545.0,82.5 545.5,89.8 421.0,152.0" fill="#d6d6d6" stroke="none" stroke-width="1" />
<line x1="418" y1="134.5" x2="420.3" y2="151" stroke="#666" stroke-width="0.8" />
<line x1="416" y1="153.5" x2="420.3" y2="151" stroke="#555" stroke-width="0.6" />
<line x1="420.3" y1="151" x2="424" y2="154" stroke="#555" stroke-width="0.6" />
<line x1="433" y1="136" x2="433" y2="141" stroke="#a0a0a0" stroke-width="0.8" />
<line x1="447" y1="127" x2="447" y2="133" stroke="#a0a0a0" stroke-width="0.8" />
<line x1="452" y1="129" x2="452" y2="133" stroke="#a0a0a0" stroke-width="0.8" />
<line x1="468" y1="122" x2="468" y2="128" stroke="#a0a0a0" stroke-width="0.8" />
<line x1="483" y1="116" x2="483" y2="120" stroke="#a0a0a0" stroke-width="0.8" />
<line x1="499" y1="108" x2="499" y2="113" stroke="#a0a0a0" stroke-width="0.8" />
<line x1="514" y1="100" x2="514" y2="104" stroke="#a0a0a0" stroke-width="0.8" />
<line x1="530" y1="92" x2="530" y2="95" stroke="#a0a0a0" stroke-width="0.8" />
<line x1="421" y1="152" x2="545.5" y2="89.8" stroke="#8c8c8c" stroke-width="0.7" />
<text x="362.8" y="93.8" font-size="8.4" font-weight="normal" fill="#222" stroke="#222" stroke-width="0.22" text-anchor="middle" >60</text>
<text x="365" y="116.0" font-size="8.4" font-weight="normal" fill="#222" stroke="#222" stroke-width="0.22" text-anchor="middle" >0</text>
<text x="373.1" y="129.5" font-size="8.4" font-weight="normal" fill="#222" stroke="#222" stroke-width="0.22" text-anchor="middle" >200</text>
<text x="386.1" y="144.9" font-size="8.4" font-weight="normal" fill="#222" stroke="#222" stroke-width="0.22" text-anchor="middle" >100</text>
<text x="409" y="162.6" font-size="8.4" font-weight="normal" fill="#222" stroke="#222" stroke-width="0.22" text-anchor="middle" >0</text>
<text x="428.5" y="164.0" font-size="8.4" font-weight="normal" fill="#222" stroke="#222" stroke-width="0.22" text-anchor="middle" >0</text>
<text x="456.5" y="151.0" font-size="8.4" font-weight="normal" fill="#222" stroke="#222" stroke-width="0.22" text-anchor="middle" >100</text>
<text x="482.2" y="137.4" font-size="8.4" font-weight="normal" fill="#222" stroke="#222" stroke-width="0.22" text-anchor="middle" >200</text>
<text x="507.3" y="124.0" font-size="8.4" font-weight="normal" fill="#222" stroke="#222" stroke-width="0.22" text-anchor="middle" >300</text>
<text x="527.7" y="112.5" font-size="8.4" font-weight="normal" fill="#222" stroke="#222" stroke-width="0.22" text-anchor="middle" >400</text>
<text x="554.3" y="99.5" font-size="8.4" font-weight="normal" fill="#222" stroke="#222" stroke-width="0.22" text-anchor="middle" >500</text>
<text x="364.2" y="78.5" font-size="8.8" font-weight="normal" fill="#222" stroke="#222" stroke-width="0.22" text-anchor="middle" textLength="14" lengthAdjust="spacingAndGlyphs" >μm</text>
<text x="379.4" y="155.5" font-size="8.8" font-weight="normal" fill="#222" stroke="#222" stroke-width="0.22" text-anchor="middle" textLength="14" lengthAdjust="spacingAndGlyphs" >μm</text>
<text x="501.5" y="143.5" font-size="8.8" font-weight="normal" fill="#222" stroke="#222" stroke-width="0.22" text-anchor="middle" textLength="14" lengthAdjust="spacingAndGlyphs" >μm</text>
<line x1="375.5" y1="93.7" x2="380" y2="118" stroke="#555" stroke-width="0.7" />
<line x1="375.5" y1="93.7" x2="371.5" y2="93" stroke="#555" stroke-width="0.7" />
<line x1="380" y1="118" x2="419.5" y2="150" stroke="#777" stroke-width="0.6" />
<line x1="419.5" y1="150" x2="547" y2="88" stroke="#888" stroke-width="0.6" />
<line x1="380.0" y1="118.0" x2="376.8" y2="119.44" stroke="#555" stroke-width="0.6" />
<line x1="381.975" y1="119.6" x2="379.77500000000003" y2="120.58999999999999" stroke="#555" stroke-width="0.6" />
<line x1="383.95" y1="121.2" x2="381.75" y2="122.19" stroke="#555" stroke-width="0.6" />
<line x1="385.925" y1="122.8" x2="383.725" y2="123.78999999999999" stroke="#555" stroke-width="0.6" />
<line x1="387.9" y1="124.4" x2="385.7" y2="125.39" stroke="#555" stroke-width="0.6" />
<line x1="389.875" y1="126.0" x2="386.675" y2="127.44" stroke="#555" stroke-width="0.6" />
<line x1="391.85" y1="127.6" x2="389.65000000000003" y2="128.59" stroke="#555" stroke-width="0.6" />
<line x1="393.825" y1="129.2" x2="391.625" y2="130.19" stroke="#555" stroke-width="0.6" />
<line x1="395.8" y1="130.8" x2="393.6" y2="131.79000000000002" stroke="#555" stroke-width="0.6" />
<line x1="397.775" y1="132.4" x2="395.575" y2="133.39000000000001" stroke="#555" stroke-width="0.6" />
<line x1="399.75" y1="134.0" x2="396.55" y2="135.44" stroke="#555" stroke-width="0.6" />
<line x1="401.725" y1="135.6" x2="399.52500000000003" y2="136.59" stroke="#555" stroke-width="0.6" />
<line x1="403.7" y1="137.2" x2="401.5" y2="138.19" stroke="#555" stroke-width="0.6" />
<line x1="405.675" y1="138.8" x2="403.475" y2="139.79000000000002" stroke="#555" stroke-width="0.6" />
<line x1="407.65" y1="140.4" x2="405.45" y2="141.39000000000001" stroke="#555" stroke-width="0.6" />
<line x1="409.625" y1="142.0" x2="406.425" y2="143.44" stroke="#555" stroke-width="0.6" />
<line x1="411.6" y1="143.6" x2="409.40000000000003" y2="144.59" stroke="#555" stroke-width="0.6" />
<line x1="413.575" y1="145.2" x2="411.375" y2="146.19" stroke="#555" stroke-width="0.6" />
<line x1="415.55" y1="146.8" x2="413.35" y2="147.79000000000002" stroke="#555" stroke-width="0.6" />
<line x1="417.525" y1="148.4" x2="415.325" y2="149.39000000000001" stroke="#555" stroke-width="0.6" />
<line x1="419.5" y1="150.0" x2="416.3" y2="151.44" stroke="#555" stroke-width="0.6" />
<line x1="419.5" y1="150.0" x2="421.9" y2="151.92" stroke="#555" stroke-width="0.6" />
<line x1="424.6" y1="147.52" x2="426.25" y2="148.84" stroke="#555" stroke-width="0.6" />
<line x1="429.7" y1="145.04" x2="431.34999999999997" y2="146.35999999999999" stroke="#555" stroke-width="0.6" />
<line x1="434.8" y1="142.56" x2="436.45" y2="143.88" stroke="#555" stroke-width="0.6" />
<line x1="439.9" y1="140.08" x2="441.54999999999995" y2="141.4" stroke="#555" stroke-width="0.6" />
<line x1="445.0" y1="137.6" x2="447.4" y2="139.51999999999998" stroke="#555" stroke-width="0.6" />
<line x1="450.1" y1="135.12" x2="451.75" y2="136.44" stroke="#555" stroke-width="0.6" />
<line x1="455.2" y1="132.64" x2="456.84999999999997" y2="133.95999999999998" stroke="#555" stroke-width="0.6" />
<line x1="460.3" y1="130.16" x2="461.95" y2="131.48" stroke="#555" stroke-width="0.6" />
<line x1="465.4" y1="127.68" x2="467.04999999999995" y2="129.0" stroke="#555" stroke-width="0.6" />
<line x1="470.5" y1="125.2" x2="472.9" y2="127.12" stroke="#555" stroke-width="0.6" />
<line x1="475.6" y1="122.72" x2="477.25" y2="124.03999999999999" stroke="#555" stroke-width="0.6" />
<line x1="480.7" y1="120.24000000000001" x2="482.34999999999997" y2="121.56" stroke="#555" stroke-width="0.6" />
<line x1="485.8" y1="117.75999999999999" x2="487.45" y2="119.07999999999998" stroke="#555" stroke-width="0.6" />
<line x1="490.9" y1="115.28" x2="492.54999999999995" y2="116.6" stroke="#555" stroke-width="0.6" />
<line x1="496.0" y1="112.80000000000001" x2="498.4" y2="114.72000000000001" stroke="#555" stroke-width="0.6" />
<line x1="501.1" y1="110.32" x2="502.75" y2="111.63999999999999" stroke="#555" stroke-width="0.6" />
<line x1="506.2" y1="107.84" x2="507.84999999999997" y2="109.16" stroke="#555" stroke-width="0.6" />
<line x1="511.3" y1="105.36" x2="512.95" y2="106.67999999999999" stroke="#555" stroke-width="0.6" />
<line x1="516.4" y1="102.88" x2="518.05" y2="104.19999999999999" stroke="#555" stroke-width="0.6" />
<line x1="521.5" y1="100.4" x2="523.9" y2="102.32000000000001" stroke="#555" stroke-width="0.6" />
<line x1="526.6" y1="97.92" x2="528.25" y2="99.24" stroke="#555" stroke-width="0.6" />
<line x1="531.7" y1="95.44" x2="533.35" y2="96.75999999999999" stroke="#555" stroke-width="0.6" />
<line x1="536.8" y1="92.96000000000001" x2="538.4499999999999" y2="94.28" stroke="#555" stroke-width="0.6" />
<line x1="541.9" y1="90.48" x2="543.55" y2="91.8" stroke="#555" stroke-width="0.6" />
<line x1="547.0" y1="88.0" x2="549.4" y2="89.92" stroke="#555" stroke-width="0.6" />
<rect x="580" y="54.7" width="7.8" height="110.1" fill="url(#cbar)" stroke="#555" stroke-width="0.5"/>
<text x="583.6" y="44.3" font-size="11" font-weight="normal" fill="#222" stroke="#222" stroke-width="0.22" text-anchor="start" textLength="18" lengthAdjust="spacingAndGlyphs" >μm</text>
<text x="601.3" y="162.20000000000002" font-size="12.3" font-weight="normal" fill="#222" stroke="#222" stroke-width="0.22" text-anchor="start" textLength="7.2" lengthAdjust="spacingAndGlyphs" >0</text>
<line x1="587.8" y1="157.8" x2="590" y2="157.8" stroke="#444" stroke-width="0.6" />
<text x="601.3" y="145.00000000000003" font-size="12.3" font-weight="normal" fill="#222" stroke="#222" stroke-width="0.22" text-anchor="start" textLength="14.8" lengthAdjust="spacingAndGlyphs" >10</text>
<line x1="587.8" y1="140.60000000000002" x2="590" y2="140.60000000000002" stroke="#444" stroke-width="0.6" />
<text x="601.3" y="127.80000000000001" font-size="12.3" font-weight="normal" fill="#222" stroke="#222" stroke-width="0.22" text-anchor="start" textLength="14.8" lengthAdjust="spacingAndGlyphs" >20</text>
<line x1="587.8" y1="123.4" x2="590" y2="123.4" stroke="#444" stroke-width="0.6" />
<text x="601.3" y="110.60000000000002" font-size="12.3" font-weight="normal" fill="#222" stroke="#222" stroke-width="0.22" text-anchor="start" textLength="14.8" lengthAdjust="spacingAndGlyphs" >30</text>
<line x1="587.8" y1="106.20000000000002" x2="590" y2="106.20000000000002" stroke="#444" stroke-width="0.6" />
<text x="601.3" y="93.40000000000002" font-size="12.3" font-weight="normal" fill="#222" stroke="#222" stroke-width="0.22" text-anchor="start" textLength="14.8" lengthAdjust="spacingAndGlyphs" >40</text>
<line x1="587.8" y1="89.00000000000001" x2="590" y2="89.00000000000001" stroke="#444" stroke-width="0.6" />
<text x="601.3" y="76.20000000000002" font-size="12.3" font-weight="normal" fill="#222" stroke="#222" stroke-width="0.22" text-anchor="start" textLength="14.8" lengthAdjust="spacingAndGlyphs" >50</text>
<line x1="587.8" y1="71.80000000000001" x2="590" y2="71.80000000000001" stroke="#444" stroke-width="0.6" />
<text x="601.3" y="59.00000000000002" font-size="12.3" font-weight="normal" fill="#222" stroke="#222" stroke-width="0.22" text-anchor="start" textLength="14.8" lengthAdjust="spacingAndGlyphs" >60</text>
<line x1="587.8" y1="54.60000000000002" x2="590" y2="54.60000000000002" stroke="#444" stroke-width="0.6" />
<line x1="27.5" y1="228.3" x2="189" y2="228.3" stroke="#8a8a8a" stroke-width="0.9" stroke-dasharray="1 1.2"/>
<line x1="44" y1="200.6" x2="44" y2="255.5" stroke="#999" stroke-width="0.9" stroke-dasharray="1 1.2"/>
<line x1="60" y1="200.6" x2="60" y2="255.5" stroke="#999" stroke-width="0.9" stroke-dasharray="1 1.2"/>
<line x1="76" y1="200.6" x2="76" y2="255.5" stroke="#999" stroke-width="0.9" stroke-dasharray="1 1.2"/>
<line x1="92" y1="200.6" x2="92" y2="255.5" stroke="#999" stroke-width="0.9" stroke-dasharray="1 1.2"/>
<line x1="108" y1="200.6" x2="108" y2="255.5" stroke="#999" stroke-width="0.9" stroke-dasharray="1 1.2"/>
<line x1="124" y1="200.6" x2="124" y2="255.5" stroke="#999" stroke-width="0.9" stroke-dasharray="1 1.2"/>
<line x1="140.3" y1="200.6" x2="140.3" y2="255.5" stroke="#999" stroke-width="0.9" stroke-dasharray="1 1.2"/>
<line x1="156.2" y1="200.6" x2="156.2" y2="255.5" stroke="#999" stroke-width="0.9" stroke-dasharray="1 1.2"/>
<line x1="172.5" y1="200.6" x2="172.5" y2="255.5" stroke="#999" stroke-width="0.9" stroke-dasharray="1 1.2"/>
<line x1="27.5" y1="200.6" x2="189" y2="200.6" stroke="#aaa" stroke-width="0.6" />
<line x1="27.5" y1="200.6" x2="189" y2="200.6" stroke="#666" stroke-width="1.3" stroke-dasharray="1.4 1.6"/>
<line x1="189" y1="200.6" x2="189" y2="255.5" stroke="#7a7a7a" stroke-width="1.5" />
<line x1="189" y1="200.6" x2="190.5" y2="200.6" stroke="#777" stroke-width="0.6" />
<line x1="189" y1="205.6" x2="190.5" y2="205.6" stroke="#777" stroke-width="0.6" />
<line x1="189" y1="210.6" x2="190.5" y2="210.6" stroke="#777" stroke-width="0.6" />
<line x1="189" y1="215.6" x2="190.5" y2="215.6" stroke="#777" stroke-width="0.6" />
<line x1="189" y1="220.6" x2="190.5" y2="220.6" stroke="#777" stroke-width="0.6" />
<line x1="189" y1="225.6" x2="190.5" y2="225.6" stroke="#777" stroke-width="0.6" />
<line x1="189" y1="230.6" x2="190.5" y2="230.6" stroke="#777" stroke-width="0.6" />
<line x1="189" y1="235.6" x2="190.5" y2="235.6" stroke="#777" stroke-width="0.6" />
<line x1="189" y1="240.6" x2="190.5" y2="240.6" stroke="#777" stroke-width="0.6" />
<line x1="189" y1="245.6" x2="190.5" y2="245.6" stroke="#777" stroke-width="0.6" />
<line x1="189" y1="250.6" x2="190.5" y2="250.6" stroke="#777" stroke-width="0.6" />
<line x1="27.5" y1="192.5" x2="27.5" y2="256.5" stroke="#666" stroke-width="1.4" />
<line x1="26.5" y1="255.5" x2="196" y2="255.5" stroke="#666" stroke-width="1.4" />
<line x1="26.0" y1="255.5" x2="27.5" y2="255.5" stroke="#666" stroke-width="0.6" />
<line x1="26.0" y1="252.06875" x2="27.5" y2="252.06875" stroke="#666" stroke-width="0.6" />
<line x1="26.0" y1="248.6375" x2="27.5" y2="248.6375" stroke="#666" stroke-width="0.6" />
<line x1="26.0" y1="245.20625" x2="27.5" y2="245.20625" stroke="#666" stroke-width="0.6" />
<line x1="26.0" y1="241.775" x2="27.5" y2="241.775" stroke="#666" stroke-width="0.6" />
<line x1="26.0" y1="238.34375" x2="27.5" y2="238.34375" stroke="#666" stroke-width="0.6" />
<line x1="26.0" y1="234.9125" x2="27.5" y2="234.9125" stroke="#666" stroke-width="0.6" />
<line x1="26.0" y1="231.48125" x2="27.5" y2="231.48125" stroke="#666" stroke-width="0.6" />
<line x1="26.0" y1="228.05" x2="27.5" y2="228.05" stroke="#666" stroke-width="0.6" />
<line x1="26.0" y1="224.61875" x2="27.5" y2="224.61875" stroke="#666" stroke-width="0.6" />
<line x1="26.0" y1="221.1875" x2="27.5" y2="221.1875" stroke="#666" stroke-width="0.6" />
<line x1="26.0" y1="217.75625" x2="27.5" y2="217.75625" stroke="#666" stroke-width="0.6" />
<line x1="26.0" y1="214.325" x2="27.5" y2="214.325" stroke="#666" stroke-width="0.6" />
<line x1="26.0" y1="210.89375" x2="27.5" y2="210.89375" stroke="#666" stroke-width="0.6" />
<line x1="26.0" y1="207.46249999999998" x2="27.5" y2="207.46249999999998" stroke="#666" stroke-width="0.6" />
<line x1="26.0" y1="204.03125" x2="27.5" y2="204.03125" stroke="#666" stroke-width="0.6" />
<line x1="26.0" y1="200.6" x2="27.5" y2="200.6" stroke="#666" stroke-width="0.6" />
<line x1="27.5" y1="255.5" x2="27.5" y2="257.0" stroke="#666" stroke-width="0.6" />
<line x1="30.93617021276596" y1="255.5" x2="30.93617021276596" y2="257.0" stroke="#666" stroke-width="0.6" />
<line x1="34.37234042553192" y1="255.5" x2="34.37234042553192" y2="257.0" stroke="#666" stroke-width="0.6" />
<line x1="37.808510638297875" y1="255.5" x2="37.808510638297875" y2="257.0" stroke="#666" stroke-width="0.6" />
<line x1="41.24468085106383" y1="255.5" x2="41.24468085106383" y2="257.0" stroke="#666" stroke-width="0.6" />
<line x1="44.68085106382979" y1="255.5" x2="44.68085106382979" y2="257.0" stroke="#666" stroke-width="0.6" />
<line x1="48.11702127659574" y1="255.5" x2="48.11702127659574" y2="257.0" stroke="#666" stroke-width="0.6" />
<line x1="51.5531914893617" y1="255.5" x2="51.5531914893617" y2="257.0" stroke="#666" stroke-width="0.6" />
<line x1="54.98936170212766" y1="255.5" x2="54.98936170212766" y2="257.0" stroke="#666" stroke-width="0.6" />
<line x1="58.42553191489362" y1="255.5" x2="58.42553191489362" y2="257.0" stroke="#666" stroke-width="0.6" />
<line x1="61.861702127659576" y1="255.5" x2="61.861702127659576" y2="257.0" stroke="#666" stroke-width="0.6" />
<line x1="65.29787234042553" y1="255.5" x2="65.29787234042553" y2="257.0" stroke="#666" stroke-width="0.6" />
<line x1="68.73404255319149" y1="255.5" x2="68.73404255319149" y2="257.0" stroke="#666" stroke-width="0.6" />
<line x1="72.17021276595744" y1="255.5" x2="72.17021276595744" y2="257.0" stroke="#666" stroke-width="0.6" />
<line x1="75.6063829787234" y1="255.5" x2="75.6063829787234" y2="257.0" stroke="#666" stroke-width="0.6" />
<line x1="79.04255319148936" y1="255.5" x2="79.04255319148936" y2="257.0" stroke="#666" stroke-width="0.6" />
<line x1="82.47872340425532" y1="255.5" x2="82.47872340425532" y2="257.0" stroke="#666" stroke-width="0.6" />
<line x1="85.91489361702128" y1="255.5" x2="85.91489361702128" y2="257.0" stroke="#666" stroke-width="0.6" />
<line x1="89.35106382978724" y1="255.5" x2="89.35106382978724" y2="257.0" stroke="#666" stroke-width="0.6" />
<line x1="92.7872340425532" y1="255.5" x2="92.7872340425532" y2="257.0" stroke="#666" stroke-width="0.6" />
<line x1="96.22340425531915" y1="255.5" x2="96.22340425531915" y2="257.0" stroke="#666" stroke-width="0.6" />
<line x1="99.65957446808511" y1="255.5" x2="99.65957446808511" y2="257.0" stroke="#666" stroke-width="0.6" />
<line x1="103.09574468085107" y1="255.5" x2="103.09574468085107" y2="257.0" stroke="#666" stroke-width="0.6" />
<line x1="106.53191489361703" y1="255.5" x2="106.53191489361703" y2="257.0" stroke="#666" stroke-width="0.6" />
<line x1="109.96808510638297" y1="255.5" x2="109.96808510638297" y2="257.0" stroke="#666" stroke-width="0.6" />
<line x1="113.40425531914893" y1="255.5" x2="113.40425531914893" y2="257.0" stroke="#666" stroke-width="0.6" />
<line x1="116.84042553191489" y1="255.5" x2="116.84042553191489" y2="257.0" stroke="#666" stroke-width="0.6" />
<line x1="120.27659574468085" y1="255.5" x2="120.27659574468085" y2="257.0" stroke="#666" stroke-width="0.6" />
<line x1="123.7127659574468" y1="255.5" x2="123.7127659574468" y2="257.0" stroke="#666" stroke-width="0.6" />
<line x1="127.14893617021276" y1="255.5" x2="127.14893617021276" y2="257.0" stroke="#666" stroke-width="0.6" />
<line x1="130.58510638297872" y1="255.5" x2="130.58510638297872" y2="257.0" stroke="#666" stroke-width="0.6" />
<line x1="134.02127659574467" y1="255.5" x2="134.02127659574467" y2="257.0" stroke="#666" stroke-width="0.6" />
<line x1="137.45744680851064" y1="255.5" x2="137.45744680851064" y2="257.0" stroke="#666" stroke-width="0.6" />
<line x1="140.8936170212766" y1="255.5" x2="140.8936170212766" y2="257.0" stroke="#666" stroke-width="0.6" />
<line x1="144.32978723404256" y1="255.5" x2="144.32978723404256" y2="257.0" stroke="#666" stroke-width="0.6" />
<line x1="147.7659574468085" y1="255.5" x2="147.7659574468085" y2="257.0" stroke="#666" stroke-width="0.6" />
<line x1="151.20212765957447" y1="255.5" x2="151.20212765957447" y2="257.0" stroke="#666" stroke-width="0.6" />
<line x1="154.63829787234044" y1="255.5" x2="154.63829787234044" y2="257.0" stroke="#666" stroke-width="0.6" />
<line x1="158.0744680851064" y1="255.5" x2="158.0744680851064" y2="257.0" stroke="#666" stroke-width="0.6" />
<line x1="161.51063829787233" y1="255.5" x2="161.51063829787233" y2="257.0" stroke="#666" stroke-width="0.6" />
<line x1="164.9468085106383" y1="255.5" x2="164.9468085106383" y2="257.0" stroke="#666" stroke-width="0.6" />
<line x1="168.38297872340425" y1="255.5" x2="168.38297872340425" y2="257.0" stroke="#666" stroke-width="0.6" />
<line x1="171.81914893617022" y1="255.5" x2="171.81914893617022" y2="257.0" stroke="#666" stroke-width="0.6" />
<line x1="175.25531914893617" y1="255.5" x2="175.25531914893617" y2="257.0" stroke="#666" stroke-width="0.6" />
<line x1="178.69148936170214" y1="255.5" x2="178.69148936170214" y2="257.0" stroke="#666" stroke-width="0.6" />
<line x1="182.12765957446808" y1="255.5" x2="182.12765957446808" y2="257.0" stroke="#666" stroke-width="0.6" />
<line x1="185.56382978723406" y1="255.5" x2="185.56382978723406" y2="257.0" stroke="#666" stroke-width="0.6" />
<line x1="189.0" y1="255.5" x2="189.0" y2="257.0" stroke="#666" stroke-width="0.6" />
<polygon points="27.5,189.5 25.3,195.5 29.7,195.5" fill="#444" stroke="none" stroke-width="1" />
<polygon points="199.0,255.5 193.0,253.3 193.0,257.7" fill="#444" stroke="none" stroke-width="1" />
<polyline points="27.5,252.8 28.1,253.5 31.8,254.7 34.3,250.4 36.1,244.2 39.6,237.0 42.3,239.9 44.2,241.7 47.3,251.0 51.0,245.4 54.5,239.6 58.4,242.3 61.5,239.9 67.1,242.6 70.2,239.2 73.3,241.3 75.7,239.2 79.5,241.1 82.0,243.3 85.0,244.8 86.2,247.3 88.7,248.3 91.8,246.0 93.6,245.8 97.3,242.9 99.2,242.3 101.7,240.5 103.5,242.3 106.6,240.8 109.5,243.6 112.8,240.5 115.9,243.6 119.6,241.3 122.7,238.4 125.8,241.3 127.6,240.8 130.7,242.9 134.5,247.9 137.5,245.4 140.0,246.7 141.8,244.2 144.3,244.2 146.8,242.6 150.5,247.5 154.8,243.6 157.3,244.8 161.0,243.3 164.1,245.0 167.2,241.3 170.9,244.2 174.0,249.1 176.5,249.5 180.8,252.5 184.5,249.1 188.8,239.2" fill="none" stroke="#808080" stroke-width="0.95" stroke-linejoin="round"/>
<text x="24.95" y="269.7" font-size="8.5" font-weight="normal" fill="#333" stroke="#333" stroke-width="0.22" text-anchor="start" textLength="4.15" lengthAdjust="spacingAndGlyphs" >0</text>
<text x="33.4" y="269.7" font-size="8.5" font-weight="normal" fill="#333" stroke="#333" stroke-width="0.22" text-anchor="start" textLength="8.6" lengthAdjust="spacingAndGlyphs" >50</text>
<text x="45.2" y="269.7" font-size="8.5" font-weight="normal" fill="#333" stroke="#333" stroke-width="0.22" text-anchor="start" textLength="12.9" lengthAdjust="spacingAndGlyphs" >100</text>
<text x="63.6" y="269.7" font-size="8.5" font-weight="normal" fill="#333" stroke="#333" stroke-width="0.22" text-anchor="start" textLength="12.8" lengthAdjust="spacingAndGlyphs" >150</text>
<text x="81.1" y="269.7" font-size="8.5" font-weight="normal" fill="#333" stroke="#333" stroke-width="0.22" text-anchor="start" textLength="12.7" lengthAdjust="spacingAndGlyphs" >200</text>
<text x="99.3" y="269.7" font-size="8.5" font-weight="normal" fill="#333" stroke="#333" stroke-width="0.22" text-anchor="start" textLength="12.8" lengthAdjust="spacingAndGlyphs" >250</text>
<text x="117.6" y="269.7" font-size="8.5" font-weight="normal" fill="#333" stroke="#333" stroke-width="0.22" text-anchor="start" textLength="12.4" lengthAdjust="spacingAndGlyphs" >300</text>
<text x="134.9" y="269.7" font-size="8.5" font-weight="normal" fill="#333" stroke="#333" stroke-width="0.22" text-anchor="start" textLength="13.4" lengthAdjust="spacingAndGlyphs" >350</text>
<text x="153" y="269.7" font-size="8.5" font-weight="normal" fill="#333" stroke="#333" stroke-width="0.22" text-anchor="start" textLength="12.9" lengthAdjust="spacingAndGlyphs" >400</text>
<text x="171.2" y="269.7" font-size="8.5" font-weight="normal" fill="#333" stroke="#333" stroke-width="0.22" text-anchor="start" textLength="13.2" lengthAdjust="spacingAndGlyphs" >450</text>
<text x="188.9" y="269.7" font-size="8.5" font-weight="normal" fill="#333" stroke="#333" stroke-width="0.22" text-anchor="start" textLength="12.9" lengthAdjust="spacingAndGlyphs" >500</text>
<text x="9.4" y="206.9" font-size="10" font-weight="normal" fill="#333" stroke="#333" stroke-width="0.22" text-anchor="start" textLength="10.8" lengthAdjust="spacingAndGlyphs" >10</text>
<text x="14.8" y="232.0" font-size="10" font-weight="normal" fill="#333" stroke="#333" stroke-width="0.22" text-anchor="start" textLength="5.0" lengthAdjust="spacingAndGlyphs" >5</text>
<text x="14.3" y="256.7" font-size="10" font-weight="normal" fill="#333" stroke="#333" stroke-width="0.22" text-anchor="start" textLength="5.9" lengthAdjust="spacingAndGlyphs" >0</text>
<text x="104.7" y="279.3" font-size="10" font-weight="normal" fill="#333" stroke="#333" stroke-width="0.22" text-anchor="start" textLength="13.9" lengthAdjust="spacingAndGlyphs" >μm</text>
<text x="8.8" y="186.6" font-size="10" font-weight="normal" fill="#333" stroke="#333" stroke-width="0.22" text-anchor="start" textLength="13.4" lengthAdjust="spacingAndGlyphs" >μm</text>
<line x1="354.4" y1="207.4" x2="526.3" y2="207.4" stroke="#8a8a8a" stroke-width="0.9" stroke-dasharray="1 1.2"/>
<line x1="354.4" y1="217.3" x2="526.3" y2="217.3" stroke="#8a8a8a" stroke-width="0.9" stroke-dasharray="1 1.2"/>
<line x1="354.4" y1="227.2" x2="526.3" y2="227.2" stroke="#8a8a8a" stroke-width="0.9" stroke-dasharray="1 1.2"/>
<line x1="354.4" y1="237.4" x2="526.3" y2="237.4" stroke="#8a8a8a" stroke-width="0.9" stroke-dasharray="1 1.2"/>
<line x1="354.4" y1="247.4" x2="526.3" y2="247.4" stroke="#8a8a8a" stroke-width="0.9" stroke-dasharray="1 1.2"/>
<line x1="371.3" y1="197.5" x2="371.3" y2="258.8" stroke="#999" stroke-width="0.9" stroke-dasharray="1 1.2"/>
<line x1="388.5" y1="197.5" x2="388.5" y2="258.8" stroke="#999" stroke-width="0.9" stroke-dasharray="1 1.2"/>
<line x1="405.8" y1="197.5" x2="405.8" y2="258.8" stroke="#999" stroke-width="0.9" stroke-dasharray="1 1.2"/>
<line x1="423" y1="197.5" x2="423" y2="258.8" stroke="#999" stroke-width="0.9" stroke-dasharray="1 1.2"/>
<line x1="440.3" y1="197.5" x2="440.3" y2="258.8" stroke="#999" stroke-width="0.9" stroke-dasharray="1 1.2"/>
<line x1="457.5" y1="197.5" x2="457.5" y2="258.8" stroke="#999" stroke-width="0.9" stroke-dasharray="1 1.2"/>
<line x1="474.8" y1="197.5" x2="474.8" y2="258.8" stroke="#999" stroke-width="0.9" stroke-dasharray="1 1.2"/>
<line x1="492" y1="197.5" x2="492" y2="258.8" stroke="#999" stroke-width="0.9" stroke-dasharray="1 1.2"/>
<line x1="509.3" y1="197.5" x2="509.3" y2="258.8" stroke="#999" stroke-width="0.9" stroke-dasharray="1 1.2"/>
<line x1="354.4" y1="197.5" x2="526.3" y2="197.5" stroke="#aaa" stroke-width="0.6" />
<line x1="354.4" y1="197.5" x2="526.3" y2="197.5" stroke="#666" stroke-width="1.3" stroke-dasharray="1.4 1.6"/>
<line x1="526.3" y1="197.5" x2="526.3" y2="258.8" stroke="#7a7a7a" stroke-width="1.5" />
<line x1="526.3" y1="197.5" x2="527.8" y2="197.5" stroke="#777" stroke-width="0.6" />
<line x1="526.3" y1="202.5" x2="527.8" y2="202.5" stroke="#777" stroke-width="0.6" />
<line x1="526.3" y1="207.5" x2="527.8" y2="207.5" stroke="#777" stroke-width="0.6" />
<line x1="526.3" y1="212.5" x2="527.8" y2="212.5" stroke="#777" stroke-width="0.6" />
<line x1="526.3" y1="217.5" x2="527.8" y2="217.5" stroke="#777" stroke-width="0.6" />
<line x1="526.3" y1="222.5" x2="527.8" y2="222.5" stroke="#777" stroke-width="0.6" />
<line x1="526.3" y1="227.5" x2="527.8" y2="227.5" stroke="#777" stroke-width="0.6" />
<line x1="526.3" y1="232.5" x2="527.8" y2="232.5" stroke="#777" stroke-width="0.6" />
<line x1="526.3" y1="237.5" x2="527.8" y2="237.5" stroke="#777" stroke-width="0.6" />
<line x1="526.3" y1="242.5" x2="527.8" y2="242.5" stroke="#777" stroke-width="0.6" />
<line x1="526.3" y1="247.5" x2="527.8" y2="247.5" stroke="#777" stroke-width="0.6" />
<line x1="526.3" y1="252.5" x2="527.8" y2="252.5" stroke="#777" stroke-width="0.6" />
<line x1="526.3" y1="257.5" x2="527.8" y2="257.5" stroke="#777" stroke-width="0.6" />
<line x1="354.4" y1="188.5" x2="354.4" y2="259.8" stroke="#666" stroke-width="1.4" />
<line x1="353.4" y1="258.8" x2="534" y2="258.8" stroke="#666" stroke-width="1.4" />
<line x1="352.9" y1="258.8" x2="354.4" y2="258.8" stroke="#666" stroke-width="0.6" />
<line x1="352.9" y1="255.39444444444445" x2="354.4" y2="255.39444444444445" stroke="#666" stroke-width="0.6" />
<line x1="352.9" y1="251.9888888888889" x2="354.4" y2="251.9888888888889" stroke="#666" stroke-width="0.6" />
<line x1="352.9" y1="248.58333333333334" x2="354.4" y2="248.58333333333334" stroke="#666" stroke-width="0.6" />
<line x1="352.9" y1="245.17777777777778" x2="354.4" y2="245.17777777777778" stroke="#666" stroke-width="0.6" />
<line x1="352.9" y1="241.77222222222224" x2="354.4" y2="241.77222222222224" stroke="#666" stroke-width="0.6" />
<line x1="352.9" y1="238.36666666666667" x2="354.4" y2="238.36666666666667" stroke="#666" stroke-width="0.6" />
<line x1="352.9" y1="234.9611111111111" x2="354.4" y2="234.9611111111111" stroke="#666" stroke-width="0.6" />
<line x1="352.9" y1="231.55555555555557" x2="354.4" y2="231.55555555555557" stroke="#666" stroke-width="0.6" />
<line x1="352.9" y1="228.15" x2="354.4" y2="228.15" stroke="#666" stroke-width="0.6" />
<line x1="352.9" y1="224.74444444444444" x2="354.4" y2="224.74444444444444" stroke="#666" stroke-width="0.6" />
<line x1="352.9" y1="221.3388888888889" x2="354.4" y2="221.3388888888889" stroke="#666" stroke-width="0.6" />
<line x1="352.9" y1="217.93333333333334" x2="354.4" y2="217.93333333333334" stroke="#666" stroke-width="0.6" />
<line x1="352.9" y1="214.52777777777777" x2="354.4" y2="214.52777777777777" stroke="#666" stroke-width="0.6" />
<line x1="352.9" y1="211.12222222222223" x2="354.4" y2="211.12222222222223" stroke="#666" stroke-width="0.6" />
<line x1="352.9" y1="207.71666666666667" x2="354.4" y2="207.71666666666667" stroke="#666" stroke-width="0.6" />
<line x1="352.9" y1="204.3111111111111" x2="354.4" y2="204.3111111111111" stroke="#666" stroke-width="0.6" />
<line x1="352.9" y1="200.90555555555557" x2="354.4" y2="200.90555555555557" stroke="#666" stroke-width="0.6" />
<line x1="352.9" y1="197.5" x2="354.4" y2="197.5" stroke="#666" stroke-width="0.6" />
<line x1="354.4" y1="258.8" x2="354.4" y2="260.3" stroke="#666" stroke-width="0.6" />
<line x1="357.83799999999997" y1="258.8" x2="357.83799999999997" y2="260.3" stroke="#666" stroke-width="0.6" />
<line x1="361.27599999999995" y1="258.8" x2="361.27599999999995" y2="260.3" stroke="#666" stroke-width="0.6" />
<line x1="364.714" y1="258.8" x2="364.714" y2="260.3" stroke="#666" stroke-width="0.6" />
<line x1="368.152" y1="258.8" x2="368.152" y2="260.3" stroke="#666" stroke-width="0.6" />
<line x1="371.59" y1="258.8" x2="371.59" y2="260.3" stroke="#666" stroke-width="0.6" />
<line x1="375.02799999999996" y1="258.8" x2="375.02799999999996" y2="260.3" stroke="#666" stroke-width="0.6" />
<line x1="378.46599999999995" y1="258.8" x2="378.46599999999995" y2="260.3" stroke="#666" stroke-width="0.6" />
<line x1="381.904" y1="258.8" x2="381.904" y2="260.3" stroke="#666" stroke-width="0.6" />
<line x1="385.342" y1="258.8" x2="385.342" y2="260.3" stroke="#666" stroke-width="0.6" />
<line x1="388.78" y1="258.8" x2="388.78" y2="260.3" stroke="#666" stroke-width="0.6" />
<line x1="392.21799999999996" y1="258.8" x2="392.21799999999996" y2="260.3" stroke="#666" stroke-width="0.6" />
<line x1="395.65599999999995" y1="258.8" x2="395.65599999999995" y2="260.3" stroke="#666" stroke-width="0.6" />
<line x1="399.094" y1="258.8" x2="399.094" y2="260.3" stroke="#666" stroke-width="0.6" />
<line x1="402.532" y1="258.8" x2="402.532" y2="260.3" stroke="#666" stroke-width="0.6" />
<line x1="405.96999999999997" y1="258.8" x2="405.96999999999997" y2="260.3" stroke="#666" stroke-width="0.6" />
<line x1="409.40799999999996" y1="258.8" x2="409.40799999999996" y2="260.3" stroke="#666" stroke-width="0.6" />
<line x1="412.846" y1="258.8" x2="412.846" y2="260.3" stroke="#666" stroke-width="0.6" />
<line x1="416.284" y1="258.8" x2="416.284" y2="260.3" stroke="#666" stroke-width="0.6" />
<line x1="419.722" y1="258.8" x2="419.722" y2="260.3" stroke="#666" stroke-width="0.6" />
<line x1="423.15999999999997" y1="258.8" x2="423.15999999999997" y2="260.3" stroke="#666" stroke-width="0.6" />
<line x1="426.59799999999996" y1="258.8" x2="426.59799999999996" y2="260.3" stroke="#666" stroke-width="0.6" />
<line x1="430.03599999999994" y1="258.8" x2="430.03599999999994" y2="260.3" stroke="#666" stroke-width="0.6" />
<line x1="433.47399999999993" y1="258.8" x2="433.47399999999993" y2="260.3" stroke="#666" stroke-width="0.6" />
<line x1="436.912" y1="258.8" x2="436.912" y2="260.3" stroke="#666" stroke-width="0.6" />
<line x1="440.34999999999997" y1="258.8" x2="440.34999999999997" y2="260.3" stroke="#666" stroke-width="0.6" />
<line x1="443.78799999999995" y1="258.8" x2="443.78799999999995" y2="260.3" stroke="#666" stroke-width="0.6" />
<line x1="447.22599999999994" y1="258.8" x2="447.22599999999994" y2="260.3" stroke="#666" stroke-width="0.6" />
<line x1="450.664" y1="258.8" x2="450.664" y2="260.3" stroke="#666" stroke-width="0.6" />
<line x1="454.102" y1="258.8" x2="454.102" y2="260.3" stroke="#666" stroke-width="0.6" />
<line x1="457.53999999999996" y1="258.8" x2="457.53999999999996" y2="260.3" stroke="#666" stroke-width="0.6" />
<line x1="460.97799999999995" y1="258.8" x2="460.97799999999995" y2="260.3" stroke="#666" stroke-width="0.6" />
<line x1="464.41599999999994" y1="258.8" x2="464.41599999999994" y2="260.3" stroke="#666" stroke-width="0.6" />
<line x1="467.8539999999999" y1="258.8" x2="467.8539999999999" y2="260.3" stroke="#666" stroke-width="0.6" />
<line x1="471.292" y1="258.8" x2="471.292" y2="260.3" stroke="#666" stroke-width="0.6" />
<line x1="474.72999999999996" y1="258.8" x2="474.72999999999996" y2="260.3" stroke="#666" stroke-width="0.6" />
<line x1="478.16799999999995" y1="258.8" x2="478.16799999999995" y2="260.3" stroke="#666" stroke-width="0.6" />
<line x1="481.606" y1="258.8" x2="481.606" y2="260.3" stroke="#666" stroke-width="0.6" />
<line x1="485.044" y1="258.8" x2="485.044" y2="260.3" stroke="#666" stroke-width="0.6" />
<line x1="488.48199999999997" y1="258.8" x2="488.48199999999997" y2="260.3" stroke="#666" stroke-width="0.6" />
<line x1="491.91999999999996" y1="258.8" x2="491.91999999999996" y2="260.3" stroke="#666" stroke-width="0.6" />
<line x1="495.35799999999995" y1="258.8" x2="495.35799999999995" y2="260.3" stroke="#666" stroke-width="0.6" />
<line x1="498.79599999999994" y1="258.8" x2="498.79599999999994" y2="260.3" stroke="#666" stroke-width="0.6" />
<line x1="502.2339999999999" y1="258.8" x2="502.2339999999999" y2="260.3" stroke="#666" stroke-width="0.6" />
<line x1="505.6719999999999" y1="258.8" x2="505.6719999999999" y2="260.3" stroke="#666" stroke-width="0.6" />
<line x1="509.10999999999996" y1="258.8" x2="509.10999999999996" y2="260.3" stroke="#666" stroke-width="0.6" />
<line x1="512.548" y1="258.8" x2="512.548" y2="260.3" stroke="#666" stroke-width="0.6" />
<line x1="515.986" y1="258.8" x2="515.986" y2="260.3" stroke="#666" stroke-width="0.6" />
<line x1="519.424" y1="258.8" x2="519.424" y2="260.3" stroke="#666" stroke-width="0.6" />
<line x1="522.862" y1="258.8" x2="522.862" y2="260.3" stroke="#666" stroke-width="0.6" />
<line x1="526.3" y1="258.8" x2="526.3" y2="260.3" stroke="#666" stroke-width="0.6" />
<polygon points="354.4,185.5 352.2,191.5 356.6,191.5" fill="#444" stroke="none" stroke-width="1" />
<polygon points="537.0,258.8 531.0,256.6 531.0,261.0" fill="#444" stroke="none" stroke-width="1" />
<polyline points="355.2,257.0 357.7,253.6 361.9,251.6 363.6,250.6 366.2,247.2 368.7,248.6 371.8,247.2 376.4,255.0 380.6,252.3 384.3,246.5 389.4,251.1 396.7,241.4 400.1,246.0 403.5,246.9 406.0,248.2 409.4,247.2 412.0,250.6 415.8,238.4 417.9,248.6 423.0,251.1 427.7,254.5 433.1,248.6 436.5,243.5 439.6,237.5 443.4,240.1 447.6,246.9 451.0,250.6 454.4,246.5 458.6,243.8 462.9,243.1 468.0,241.8 471.4,245.2 473.0,245.5 474.7,251.1 480.7,247.2 485.8,242.6 489.2,240.1 494.2,244.3 499.3,252.3 504.4,244.3 507.8,244.8 514.6,245.5 518.8,238.7 523.0,241.8 525.6,243.8" fill="none" stroke="#808080" stroke-width="0.95" stroke-linejoin="round"/>
<text x="352" y="270.8" font-size="7.6" font-weight="normal" fill="#333" stroke="#333" stroke-width="0.22" text-anchor="start" textLength="4.5" lengthAdjust="spacingAndGlyphs" >0</text>
<text x="366.8" y="270.8" font-size="7.6" font-weight="normal" fill="#333" stroke="#333" stroke-width="0.22" text-anchor="start" textLength="8.6" lengthAdjust="spacingAndGlyphs" >50</text>
<text x="382.1" y="270.8" font-size="7.6" font-weight="normal" fill="#333" stroke="#333" stroke-width="0.22" text-anchor="start" textLength="13.0" lengthAdjust="spacingAndGlyphs" >100</text>
<text x="399.8" y="270.8" font-size="7.6" font-weight="normal" fill="#333" stroke="#333" stroke-width="0.22" text-anchor="start" textLength="12.9" lengthAdjust="spacingAndGlyphs" >150</text>
<text x="417.1" y="270.8" font-size="7.6" font-weight="normal" fill="#333" stroke="#333" stroke-width="0.22" text-anchor="start" textLength="13.2" lengthAdjust="spacingAndGlyphs" >200</text>
<text x="434.7" y="270.8" font-size="7.6" font-weight="normal" fill="#333" stroke="#333" stroke-width="0.22" text-anchor="start" textLength="13.2" lengthAdjust="spacingAndGlyphs" >250</text>
<text x="451.8" y="270.8" font-size="7.6" font-weight="normal" fill="#333" stroke="#333" stroke-width="0.22" text-anchor="start" textLength="13.2" lengthAdjust="spacingAndGlyphs" >300</text>
<text x="469.3" y="270.8" font-size="7.6" font-weight="normal" fill="#333" stroke="#333" stroke-width="0.22" text-anchor="start" textLength="13.4" lengthAdjust="spacingAndGlyphs" >350</text>
<text x="486.5" y="270.8" font-size="7.6" font-weight="normal" fill="#333" stroke="#333" stroke-width="0.22" text-anchor="start" textLength="12.1" lengthAdjust="spacingAndGlyphs" >400</text>
<text x="505.2" y="270.8" font-size="7.6" font-weight="normal" fill="#333" stroke="#333" stroke-width="0.22" text-anchor="start" textLength="12.7" lengthAdjust="spacingAndGlyphs" >450</text>
<text x="521.2" y="270.8" font-size="7.6" font-weight="normal" fill="#333" stroke="#333" stroke-width="0.22" text-anchor="start" textLength="12.6" lengthAdjust="spacingAndGlyphs" >500</text>
<text x="333.6" y="205.3" font-size="10.3" font-weight="normal" fill="#333" stroke="#333" stroke-width="0.22" text-anchor="start" textLength="11.2" lengthAdjust="spacingAndGlyphs" >60</text>
<text x="333.1" y="230.0" font-size="10.3" font-weight="normal" fill="#333" stroke="#333" stroke-width="0.22" text-anchor="start" textLength="11.7" lengthAdjust="spacingAndGlyphs" >30</text>
<text x="338.6" y="254.7" font-size="10.3" font-weight="normal" fill="#333" stroke="#333" stroke-width="0.22" text-anchor="start" textLength="6.2" lengthAdjust="spacingAndGlyphs" >0</text>
<text x="441.9" y="280.5" font-size="10" font-weight="normal" fill="#333" stroke="#333" stroke-width="0.22" text-anchor="start" textLength="13.1" lengthAdjust="spacingAndGlyphs" >μm</text>
<text x="336.6" y="187.0" font-size="10" font-weight="normal" fill="#333" stroke="#333" stroke-width="0.22" text-anchor="start" textLength="14.5" lengthAdjust="spacingAndGlyphs" >μm</text>
<defs>
<filter id="mpA" x="0" y="0" width="100%" height="100%" filterUnits="objectBoundingBox" color-interpolation-filters="sRGB"><feTurbulence type="fractalNoise" baseFrequency="0.25 0.05" numOctaves="4" seed="12" result="n0"/><feColorMatrix in="n0" type="matrix" values="1.05 0 0 0 0.08  1.05 0 0 0 0.08  1.05 0 0 0 0.08  0 0 0 0 1" result="g"/><feComponentTransfer in="g"><feFuncR type="table" tableValues="0.000 0.000 0.000 0.000 0.000 0.000 0.000 0.000 0.000 0.000 0.000 0.000 0.000 0.000 0.000 0.000 0.000 0.000 0.000 0.031 0.188 0.344 0.501 0.631 0.728 0.826 0.923 1.000 1.000 1.000 1.000 1.000 1.000 1.000 1.000 1.000 1.000 1.000 1.000 1.000 1.000 1.000 1.000 1.000 1.000 1.000 1.000 1.000"/><feFuncG type="table" tableValues="0.000 0.000 0.000 0.000 0.000 0.025 0.108 0.192 0.294 0.415 0.536 0.658 0.779 0.861 0.854 0.848 0.842 0.835 0.829 0.828 0.849 0.869 0.890 0.906 0.915 0.925 0.934 0.929 0.869 0.809 0.750 0.690 0.631 0.571 0.496 0.413 0.330 0.246 0.163 0.258 0.366 0.475 0.583 0.685 0.764 0.842 0.921 1.000"/><feFuncB type="table" tableValues="0.235 0.352 0.469 0.586 0.703 0.807 0.884 0.960 0.991 0.972 0.953 0.934 0.915 0.872 0.776 0.680 0.583 0.487 0.391 0.297 0.214 0.130 0.047 0.000 0.000 0.000 0.000 0.000 0.000 0.000 0.000 0.000 0.000 0.000 0.000 0.000 0.000 0.000 0.000 0.132 0.274 0.416 0.557 0.685 0.764 0.842 0.921 1.000"/></feComponentTransfer></filter>
<filter id="mpB" x="0" y="0" width="100%" height="100%" filterUnits="objectBoundingBox" color-interpolation-filters="sRGB">
<feGaussianBlur in="SourceGraphic" stdDeviation="0.9" result="sb"/>
<feTurbulence type="fractalNoise" baseFrequency="0.12 0.16" numOctaves="4" seed="31" result="n0"/>
<feColorMatrix in="n0" type="matrix" values="1 0 0 0 0  1 0 0 0 0  1 0 0 0 0  0 0 0 0 1" result="n"/>
<feComposite in="sb" in2="n" operator="arithmetic" k1="0" k2="1" k3="0.36" k4="-0.18" result="v"/>
<feColorMatrix in="v" type="matrix" values="1 0 0 0 0  1 0 0 0 0  1 0 0 0 0  0 0 0 0 1" result="g"/>
<feComponentTransfer in="g">
<feFuncR type="table" tableValues="0.000 0.000 0.000 0.000 0.000 0.000 0.000 0.000 0.000 0.000 0.000 0.000 0.000 0.000 0.000 0.000 0.000 0.000 0.000 0.031 0.188 0.344 0.501 0.631 0.728 0.826 0.923 1.000 1.000 1.000 1.000 1.000 1.000 1.000 1.000 1.000 1.000 1.000 1.000 1.000 1.000 1.000 1.000 1.000 1.000 1.000 1.000 1.000"/>
<feFuncG type="table" tableValues="0.000 0.000 0.000 0.000 0.000 0.025 0.108 0.192 0.294 0.415 0.536 0.658 0.779 0.861 0.854 0.848 0.842 0.835 0.829 0.828 0.849 0.869 0.890 0.906 0.915 0.925 0.934 0.929 0.869 0.809 0.750 0.690 0.631 0.571 0.496 0.413 0.330 0.246 0.163 0.258 0.366 0.475 0.583 0.685 0.764 0.842 0.921 1.000"/>
<feFuncB type="table" tableValues="0.235 0.352 0.469 0.586 0.703 0.807 0.884 0.960 0.991 0.972 0.953 0.934 0.915 0.872 0.776 0.680 0.583 0.487 0.391 0.297 0.214 0.130 0.047 0.000 0.000 0.000 0.000 0.000 0.000 0.000 0.000 0.000 0.000 0.000 0.000 0.000 0.000 0.000 0.000 0.132 0.274 0.416 0.557 0.685 0.764 0.842 0.921 1.000"/>
</feComponentTransfer>
</filter>
<clipPath id="clipMA"><rect x="213" y="204.3" width="71" height="45.5"/></clipPath>
<clipPath id="clipMB"><rect x="557.2" y="211.5" width="76.3" height="30.5"/></clipPath>
</defs>
<rect x="211.5" y="191.2" width="74.8" height="81.0" fill="#fff" stroke="#8a8a8a" stroke-width="1"/>
<g clip-path="url(#clipMA)"><g transform="rotate(32 248.5 227)"><rect x="190" y="170" width="120" height="115" filter="url(#mpA)"/></g></g>
<rect x="213" y="204.3" width="71" height="45.5" fill="none" stroke="#777" stroke-width="0.7"/>
<line x1="213" y1="225.4" x2="284" y2="225.4" stroke="#f4f4f4" stroke-width="0.9" stroke-dasharray="1 1.3"/>
<line x1="213" y1="244" x2="284" y2="244" stroke="#f4f4f4" stroke-width="0.9" stroke-dasharray="1 1.3"/>
<circle cx="248.6" cy="225.4" r="1.4" fill="#fff" stroke="#888" stroke-width="0.5"/>
<circle cx="248.6" cy="244" r="1.4" fill="#fff" stroke="#888" stroke-width="0.5"/>
<text x="224.7" y="264.3" font-size="8.6" font-weight="normal" fill="#222" stroke="#222" stroke-width="0.22" text-anchor="start" textLength="49.5" lengthAdjust="spacingAndGlyphs" >Mean profile</text>
<rect x="555.3" y="190.7" width="80.5" height="81.5" fill="#fff" stroke="#8a8a8a" stroke-width="1"/>
<g clip-path="url(#clipMB)"><g filter="url(#mpB)"><rect x="550" y="205" width="90" height="45" fill="rgb(133,133,133)"/><ellipse cx="563" cy="220" rx="6" ry="9" fill="rgb(84,84,84)"/><ellipse cx="598" cy="215" rx="6" ry="4" fill="rgb(82,82,82)"/><ellipse cx="624" cy="229" rx="8" ry="5" fill="rgb(89,89,89)"/><ellipse cx="575" cy="236" rx="10" ry="4" fill="rgb(143,143,143)"/><ellipse cx="620" cy="214" rx="8" ry="4" fill="rgb(173,173,173)"/><ellipse cx="605" cy="238" rx="8" ry="4" fill="rgb(148,148,148)"/><ellipse cx="582" cy="214" rx="6" ry="3" fill="rgb(140,140,140)"/><path d="M557.7,232 L572,225 L587,218.7" stroke="rgb(214,214,214)" stroke-width="2.6" fill="none" stroke-linecap="round"/><path d="M587,241 L591,232 L595,225.4 L611,221.4" stroke="rgb(214,214,214)" stroke-width="2.4" fill="none" stroke-linecap="round"/><path d="M611,228 L612,241" stroke="rgb(189,189,189)" stroke-width="1.8" fill="none" stroke-linecap="round"/><path d="M572,241 L575,230" stroke="rgb(184,184,184)" stroke-width="1.8" fill="none" stroke-linecap="round"/><path d="M620,214 L630,222" stroke="rgb(189,189,189)" stroke-width="2.2" fill="none" stroke-linecap="round"/></g></g>
<rect x="557.2" y="211.5" width="76.3" height="30.5" fill="none" stroke="#777" stroke-width="0.7"/>
<line x1="557.2" y1="217.6" x2="633.5" y2="217.6" stroke="#f4f4f4" stroke-width="0.9" stroke-dasharray="1 1.3"/>
<line x1="557.2" y1="227.5" x2="633.5" y2="227.5" stroke="#f4f4f4" stroke-width="0.9" stroke-dasharray="1 1.3"/>
<circle cx="595.3" cy="217.6" r="1.4" fill="#fff" stroke="#888" stroke-width="0.5"/>
<circle cx="595.3" cy="227.5" r="1.4" fill="#fff" stroke="#888" stroke-width="0.5"/>
<text x="573" y="264.2" font-size="8.6" font-weight="normal" fill="#222" stroke="#222" stroke-width="0.22" text-anchor="start" textLength="50.2" lengthAdjust="spacingAndGlyphs" >Mean profile</text>
</svg></body></html>
